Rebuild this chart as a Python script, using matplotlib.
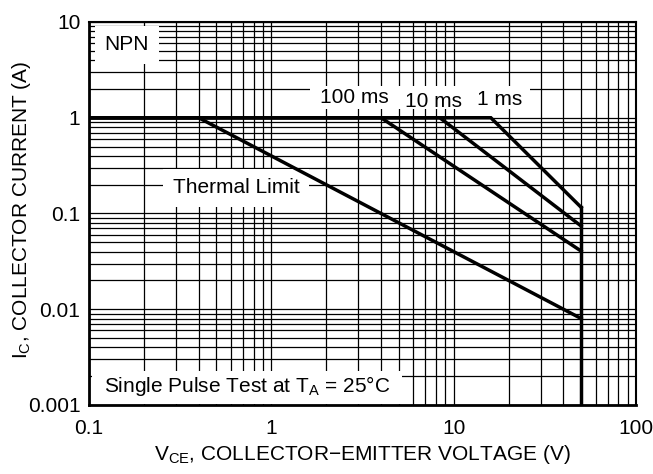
import matplotlib
matplotlib.use("Agg")
import matplotlib.pyplot as plt
from matplotlib.patches import Rectangle
from matplotlib.ticker import FixedLocator, FixedFormatter, LogLocator, NullFormatter

plt.rcParams["font.family"] = ["Liberation Sans", "DejaVu Sans"]
plt.rcParams["mathtext.default"] = "regular"

# safe operating area curves (V, A)
thermal_v = [0.1, 0.4, 50]
thermal_i = [1.0, 1.0, 0.008]
ms100_v = [0.1, 4.0, 50]
ms100_i = [1.0, 1.0, 0.0405]
ms10_v = [0.1, 8.4, 50]
ms10_i = [1.0, 1.0, 0.074]
ms1_v = [0.1, 16.0, 50]
ms1_i = [1.0, 1.0, 0.116]
bv_v = [50, 50]
bv_i = [0.001, 0.116]

x_ticks = [0.1, 1, 10, 100]
x_labels = ["0.1", "1", "10", "100"]
y_ticks = [0.001, 0.01, 0.1, 1, 10]
y_labels = ["0.001", "0.01", "0.1", "1", "10"]

fs = 15

fig = plt.figure(figsize=(6.53, 4.74), dpi=100)
ax = fig.add_axes([0.136, 0.1456, 0.838, 0.808])
ax.set_xscale("log")
ax.set_yscale("log")
ax.set_xlim(0.1, 100)
ax.set_ylim(0.001, 10)

ax.xaxis.set_major_locator(FixedLocator(x_ticks))
ax.xaxis.set_major_formatter(FixedFormatter(x_labels))
ax.yaxis.set_major_locator(FixedLocator(y_ticks))
ax.yaxis.set_major_formatter(FixedFormatter(y_labels))
ax.xaxis.set_minor_locator(LogLocator(base=10, subs=range(2, 10)))
ax.yaxis.set_minor_locator(LogLocator(base=10, subs=range(2, 10)))
ax.xaxis.set_minor_formatter(NullFormatter())
ax.yaxis.set_minor_formatter(NullFormatter())
ax.tick_params(which="both", length=0, labelsize=fs, colors="black")
ax.tick_params(axis="x", pad=10)
ax.tick_params(axis="y", pad=6)
ax.set_axisbelow(True)
ax.grid(which="both", color="black", lw=0.9)
ax.spines["left"].set_linewidth(2.0)
ax.spines["bottom"].set_linewidth(2.0)
ax.spines["top"].set_linewidth(1.5)
ax.spines["right"].set_linewidth(1.5)

lw = 2.5
for v, i in [(thermal_v, thermal_i), (ms100_v, ms100_i), (ms10_v, ms10_i),
             (ms1_v, ms1_i), (bv_v, bv_i)]:
    ax.plot(v, i, color="black", lw=lw, solid_joinstyle="miter", zorder=4)

ax.text(0.069, 0.94, "NPN", transform=ax.transAxes, ha="center", va="center",
        fontsize=fs, bbox=dict(fc="white", ec="none", pad=7), zorder=3)
ax.text(0.269, 0.567, "Thermal Limit", transform=ax.transAxes, ha="center",
        va="center", fontsize=fs, bbox=dict(fc="white", ec="none", pad=7), zorder=3)
ax.add_patch(Rectangle((0.404, 0.772), 0.402, 0.06, transform=ax.transAxes,
                       fc="white", ec="none", zorder=2.5))
ax.text(0.486, 0.802, "100 ms", transform=ax.transAxes, ha="center", va="center",
        fontsize=fs, zorder=3)
ax.text(0.629, 0.792, "10 ms", transform=ax.transAxes, ha="center", va="center",
        fontsize=fs, zorder=3)
ax.text(0.750, 0.798, "1 ms", transform=ax.transAxes, ha="center", va="center",
        fontsize=fs, zorder=3)
ax.add_patch(Rectangle((0.006, 0.003), 0.566, 0.087, transform=ax.transAxes,
                       fc="white", ec="none", zorder=2.5))
ax.text(0.289, 0.05, r"Single Pulse Test at $T_A$ = 25°C", transform=ax.transAxes,
        ha="center", va="center", fontsize=fs, zorder=3)

ax.set_xlabel(r"$V_{CE}$, COLLECTOR−EMITTER VOLTAGE (V)", fontsize=fs, labelpad=4)
ax.set_ylabel(r"$I_C$, COLLECTOR CURRENT (A)", fontsize=fs)
ax.yaxis.set_label_coords(-0.102, 0.51)

fig.savefig("out.png", dpi=100)
